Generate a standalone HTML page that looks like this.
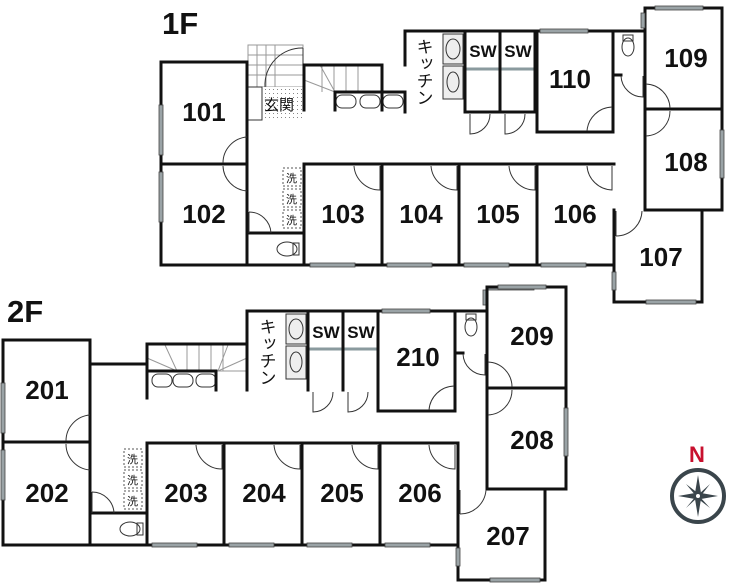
<!DOCTYPE html>
<html><head><meta charset="utf-8"><style>
html,body{margin:0;padding:0;background:#fff;}
svg{display:block;}
.w{stroke:#111;stroke-width:3;fill:none;stroke-linecap:square}
.t{stroke:#333;stroke-width:1;fill:none}
.g{stroke:#999;stroke-width:1;fill:none}
.n{font-family:"Liberation Sans",Arial,sans-serif;font-weight:bold;font-size:26px;fill:#111;text-anchor:middle}
.j{font-family:"Liberation Sans","Noto Sans CJK JP",sans-serif;font-size:13px;fill:#111}
.win{fill:#9aa3a6;stroke:#444;stroke-width:0.8}
</style></head><body>
<svg width="730" height="585" viewBox="0 0 730 585" xmlns="http://www.w3.org/2000/svg">
<defs><pattern id="dots" width="4" height="4" patternUnits="userSpaceOnUse"><rect width="4" height="4" fill="#fff"/><rect x="1" y="1" width="1" height="1" fill="#888"/></pattern></defs>
<!-- ===== 1F ===== -->
<text x="162" y="34" style="font-family:'Liberation Sans',sans-serif;font-weight:bold;font-size:31px" fill="#111">1F</text>
<g class="g" stroke="#bbb">
<rect x="248" y="45" width="55" height="42"/>
<line x1="257" y1="45" x2="257" y2="87"/><line x1="266" y1="45" x2="266" y2="87"/><line x1="275" y1="45" x2="275" y2="87"/>
<line x1="248" y1="55" x2="303" y2="55"/><line x1="248" y1="65" x2="303" y2="65"/><line x1="248" y1="75" x2="303" y2="75"/>
</g>
<path class="t" d="M303,48 A37,37 0 0 0 265,87" />
<line class="t" x1="303" y1="48" x2="303" y2="87"/>
<rect x="262" y="87" width="41" height="33" fill="url(#dots)"/>
<rect x="248" y="87" width="14" height="33" class="t"/>
<text class="j" x="264" y="110" style="font-size:15px">玄関</text>
<g class="g"><line x1="304" y1="65" x2="382" y2="65"/>
<line x1="322" y1="65" x2="322" y2="92"/><line x1="334" y1="65" x2="334" y2="92"/><line x1="346" y1="65" x2="346" y2="92"/><line x1="358" y1="65" x2="358" y2="92"/>
<line x1="304" y1="80" x2="335" y2="92"/><line x1="320" y1="65" x2="335" y2="92"/></g>
<g class="t"><rect x="336" y="95" width="20" height="13" rx="6"/><rect x="360" y="95" width="20" height="13" rx="6"/><rect x="383" y="95" width="20" height="13" rx="6"/></g>
<text class="j" x="423" y="38" style="writing-mode:vertical-rl;font-size:17px">キッチン</text>
<g class="t"><rect x="443" y="34" width="20" height="30" fill="#eee"/><rect x="443" y="66" width="20" height="33" fill="#eee"/><ellipse cx="453" cy="49" rx="7" ry="10"/><ellipse cx="453" cy="82" rx="6" ry="10"/></g>
<text x="483" y="57" class="n" style="font-size:17px">SW</text>
<text x="518" y="57" class="n" style="font-size:17px">SW</text>
<line x1="466" y1="69" x2="535" y2="69" stroke="#8a9a9e" stroke-width="3"/>
<g class="w">
<rect x="161" y="62" width="86" height="203"/>
<line x1="161" y1="164" x2="247" y2="164"/>
<line x1="247" y1="265" x2="614" y2="265"/>
<line x1="248" y1="233" x2="304" y2="233"/>
<line x1="304" y1="164" x2="304" y2="265"/>
<line x1="304" y1="164" x2="614" y2="164"/>
<line x1="382" y1="164" x2="382" y2="265"/><line x1="459" y1="164" x2="459" y2="265"/><line x1="537" y1="164" x2="537" y2="265"/>
<line x1="614" y1="210" x2="614" y2="265"/>
<polyline points="304,110 304,65 382,65 382,110"/>
<line x1="335" y1="92" x2="405" y2="92"/><line x1="335" y1="92" x2="335" y2="110"/><line x1="405" y1="92" x2="405" y2="112"/>
<polyline points="405,65 405,31 645,31"/>
<line x1="465" y1="31" x2="465" y2="112"/><line x1="500" y1="31" x2="500" y2="112"/><line x1="535" y1="31" x2="535" y2="112"/>
<line x1="465" y1="112" x2="535" y2="112"/>
<polyline points="537,31 537,132 613,132 613,31"/>
<line x1="613" y1="75" x2="621" y2="75"/>
<rect x="645" y="8" width="77" height="202"/>
<line x1="645" y1="109" x2="722" y2="109"/>
<polyline points="614,210 614,302 702,302 702,210"/>
</g>
<g class="t"><ellipse cx="287" cy="249" rx="10" ry="7"/><rect x="293" y="243" width="6" height="12"/>
<ellipse cx="628" cy="47" rx="6" ry="9"/><rect x="623" y="35" width="10" height="6"/></g>
<g><rect x="283" y="168" width="18" height="18" fill="none" stroke="#555" stroke-dasharray="2,2"/><rect x="283" y="189" width="18" height="18" fill="none" stroke="#555" stroke-dasharray="2,2"/><rect x="283" y="210" width="18" height="18" fill="none" stroke="#555" stroke-dasharray="2,2"/>
<text class="j" x="286" y="182" style="font-size:11px">洗</text><text class="j" x="286" y="203" style="font-size:11px">洗</text><text class="j" x="286" y="224" style="font-size:11px">洗</text></g>
<g class="t">
<path d="M247,137 A26,26 0 0 0 223,163"/><path d="M223,166 A26,26 0 0 0 247,191"/>
<path d="M249,212 A22,22 0 0 1 271,233 M249,212 L249,233"/>
<path d="M354,166 A26,26 0 0 0 380,190 L380,166"/>
<path d="M431,166 A26,26 0 0 0 457,190 L457,166"/>
<path d="M509,166 A26,26 0 0 0 535,190 L535,166"/>
<path d="M587,166 A26,26 0 0 0 612,190 L612,166"/>
<path d="M587,131 A26,26 0 0 1 612,107"/>
<path d="M470,114 L470,134 A20,20 0 0 0 490,114"/><path d="M505,114 L505,134 A20,20 0 0 0 525,114"/>
<path d="M621,76 A22,22 0 0 0 643,97 L643,76"/>
<path d="M646,84 A25,25 0 0 1 670,108"/>
<path d="M670,111 A25,25 0 0 1 646,136"/>
<path d="M616,236 A26,26 0 0 0 642,211 M616,211 L616,236"/>
</g>
<g class="win">
<rect x="159" y="105" width="4" height="50"/><rect x="159" y="172" width="4" height="50"/>
<rect x="310" y="263" width="45" height="4"/><rect x="387" y="263" width="45" height="4"/><rect x="464" y="263" width="45" height="4"/><rect x="541" y="263" width="45" height="4"/>
<rect x="540" y="29" width="48" height="4"/><rect x="655" y="6" width="48" height="4"/><rect x="641" y="13" width="4" height="15"/>
<rect x="720" y="130" width="4" height="48"/><rect x="612" y="272" width="4" height="18"/><rect x="646" y="300" width="50" height="4"/>
<rect x="486" y="286" width="48" height="4"/><rect x="483" y="290" width="4" height="15"/>
</g>
<text class="n" x="204" y="121">101</text><text class="n" x="204" y="223">102</text>
<text class="n" x="343" y="223">103</text><text class="n" x="421" y="223">104</text><text class="n" x="498" y="223">105</text><text class="n" x="575" y="223">106</text>
<text class="n" x="570" y="88">110</text><text class="n" x="686" y="67">109</text><text class="n" x="686" y="171">108</text><text class="n" x="661" y="266">107</text>

<!-- ===== 2F ===== -->
<text x="7" y="322" style="font-family:'Liberation Sans',sans-serif;font-weight:bold;font-size:31px" fill="#111">2F</text>
<g class="g"><line x1="187" y1="345" x2="187" y2="371"/><line x1="199" y1="345" x2="199" y2="371"/><line x1="211" y1="345" x2="211" y2="371"/><line x1="223" y1="345" x2="223" y2="371"/>
<line x1="147" y1="358" x2="177" y2="371"/><line x1="165" y1="345" x2="177" y2="371"/><line x1="247" y1="358" x2="218" y2="371"/><line x1="228" y1="345" x2="218" y2="371"/><line x1="147" y1="371" x2="247" y2="371"/></g>
<g class="t"><rect x="152" y="374" width="20" height="13" rx="6"/><rect x="173" y="374" width="20" height="13" rx="6"/><rect x="196" y="374" width="20" height="13" rx="6"/></g>
<text class="j" x="266" y="318" style="writing-mode:vertical-rl;font-size:17px">キッチン</text>
<g class="t"><rect x="286" y="314" width="20" height="30" fill="#eee"/><rect x="286" y="346" width="20" height="33" fill="#eee"/><ellipse cx="296" cy="329" rx="7" ry="10"/><ellipse cx="296" cy="362" rx="6" ry="10"/></g>
<text x="326" y="338" class="n" style="font-size:17px">SW</text>
<text x="361" y="338" class="n" style="font-size:17px">SW</text>
<line x1="309" y1="349" x2="378" y2="349" stroke="#8a9a9e" stroke-width="3"/>
<g class="w">
<rect x="3" y="340" width="87" height="205"/>
<line x1="3" y1="442" x2="90" y2="442"/>
<line x1="90" y1="364" x2="147" y2="364"/>
<polyline points="147,398 147,344 247,344"/>
<line x1="147" y1="371" x2="216" y2="371"/><line x1="216" y1="371" x2="216" y2="390"/>
<polyline points="247,390 247,311 487,311"/>
<line x1="308" y1="311" x2="308" y2="390"/><line x1="343" y1="311" x2="343" y2="390"/><line x1="378" y1="311" x2="378" y2="411"/>
<polyline points="378,411 455,411 455,311"/>
<line x1="455" y1="353" x2="463" y2="353"/>
<rect x="487" y="287" width="79" height="202"/>
<line x1="487" y1="388" x2="566" y2="388"/>
<polyline points="458,489 458,580 545,580 545,489"/>
<line x1="90" y1="545" x2="458" y2="545"/>
<line x1="91" y1="513" x2="147" y2="513"/>
<line x1="147" y1="443" x2="458" y2="443"/>
<line x1="147" y1="443" x2="147" y2="545"/><line x1="224" y1="443" x2="224" y2="545"/><line x1="302" y1="443" x2="302" y2="545"/><line x1="380" y1="443" x2="380" y2="545"/><line x1="458" y1="443" x2="458" y2="545"/>
</g>
<g class="t"><ellipse cx="130" cy="529" rx="10" ry="7"/><rect x="137" y="523" width="6" height="12"/>
<ellipse cx="471" cy="327" rx="6" ry="9"/><rect x="466" y="314" width="10" height="6"/></g>
<g><rect x="124" y="449" width="18" height="18" fill="none" stroke="#555" stroke-dasharray="2,2"/><rect x="124" y="470" width="18" height="18" fill="none" stroke="#555" stroke-dasharray="2,2"/><rect x="124" y="491" width="18" height="18" fill="none" stroke="#555" stroke-dasharray="2,2"/>
<text class="j" x="127" y="463" style="font-size:11px">洗</text><text class="j" x="127" y="484" style="font-size:11px">洗</text><text class="j" x="127" y="505" style="font-size:11px">洗</text></g>
<g class="t">
<path d="M90,415 A26,26 0 0 0 66,441"/><path d="M66,444 A26,26 0 0 0 90,470"/>
<path d="M92,492 A22,22 0 0 1 114,513 M92,492 L92,513"/>
<path d="M196,445 A26,26 0 0 0 222,469 L222,445"/>
<path d="M274,445 A26,26 0 0 0 300,469 L300,445"/>
<path d="M352,445 A26,26 0 0 0 378,469 L378,445"/>
<path d="M429,445 A26,26 0 0 0 455,469 L455,445"/>
<path d="M429,410 A26,26 0 0 1 454,386"/>
<path d="M313,392 L313,412 A20,20 0 0 0 333,392"/><path d="M348,392 L348,412 A20,20 0 0 0 368,392"/>
<path d="M463,354 A22,22 0 0 0 485,375 L485,354"/>
<path d="M488,362 A25,25 0 0 1 512,387"/><path d="M512,390 A25,25 0 0 1 488,415"/>
<path d="M460,514 A26,26 0 0 0 486,490 M460,490 L460,514"/>
</g>
<g class="win">
<rect x="1" y="383" width="4" height="50"/><rect x="1" y="450" width="4" height="50"/>
<rect x="152" y="543" width="45" height="4"/><rect x="229" y="543" width="45" height="4"/><rect x="307" y="543" width="45" height="4"/><rect x="385" y="543" width="45" height="4"/>
<rect x="382" y="309" width="48" height="4"/><rect x="498" y="285" width="48" height="4"/>
<rect x="564" y="408" width="4" height="48"/><rect x="456" y="548" width="4" height="18"/><rect x="490" y="578" width="50" height="4"/>
</g>
<text class="n" x="47" y="399">201</text><text class="n" x="47" y="502">202</text>
<text class="n" x="186" y="502">203</text><text class="n" x="264" y="502">204</text><text class="n" x="342" y="502">205</text><text class="n" x="420" y="502">206</text>
<text class="n" x="418" y="366">210</text><text class="n" x="532" y="345">209</text><text class="n" x="532" y="449">208</text><text class="n" x="508" y="545">207</text>
<text x="697" y="462" class="n" style="font-size:22px;fill:#c8102e">N</text>
<circle cx="698" cy="496" r="26" fill="none" stroke="#3a454b" stroke-width="4"/>
<polygon points="698,475 701,493 718,496 701,499 698,517 695,499 678,496 695,493" fill="#3a454b"/>
<polygon points="686,484 699,494 710,484 700,497 710,508 697,498 686,508 696,496" fill="#3a454b"/>
<circle cx="698" cy="496" r="2" fill="#fff"/>
</svg>
</body></html>
